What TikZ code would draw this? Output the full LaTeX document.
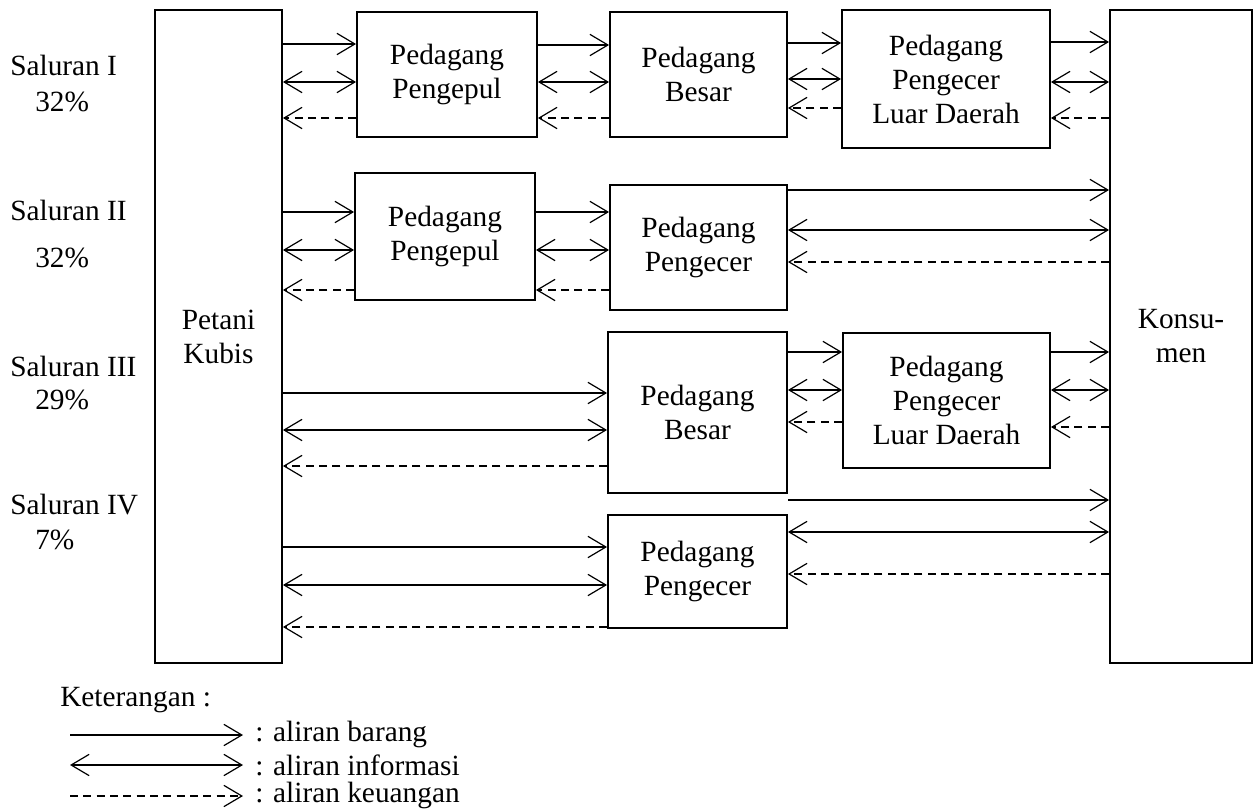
\documentclass[tikz,border=0pt]{standalone}
\usepackage{fontspec}
\setmainfont{Liberation Serif}
\usetikzlibrary{arrows.meta}
\begin{document}
\begin{tikzpicture}[x=0.75pt,y=-0.75pt,
  box/.style={draw,line width=1.4pt,inner sep=0pt,align=center,font=\fontsize{22}{25.5}\selectfont},
  lbl/.style={anchor=west,inner sep=0pt,font=\fontsize{22}{25.5}\selectfont},
  barang/.style={line width=0.9pt,-{Straight Barb[length=13.5pt,width=16pt]}},
  info/.style={line width=0.9pt,{Straight Barb[length=13.5pt,width=16pt]}-{Straight Barb[length=13.5pt,width=16pt]}},
  uang/.style={line width=0.9pt,dash pattern=on 6pt off 4pt,-{Straight Barb[length=13.5pt,width=16pt]}}
]
\useasboundingbox (0,0) rectangle (1260,810);

% main boxes
\node[box,minimum width=95.25pt,minimum height=489.75pt] (P) at (218.5,336.5) {Petani\\Kubis};
\node[box,minimum width=106.5pt,minimum height=489.75pt] (K) at (1181,336.5) {Konsu-\\men};

% row 1
\node[box,minimum width=135pt,minimum height=93.75pt] (A1) at (447,74.5) {Pedagang\\Pengepul};
\node[box,minimum width=132.75pt,minimum height=93.75pt] (B1) at (698.5,74.5) {Pedagang\\Besar};
\node[box,minimum width=156pt,minimum height=103.5pt] (C1) at (946,79) {Pedagang\\Pengecer\\Luar Daerah};
% row 2
\node[box,minimum width=135pt,minimum height=95.25pt] (A2) at (445,236.5) {Pedagang\\Pengepul};
\node[box,minimum width=132.75pt,minimum height=93.75pt] (B2) at (698.5,247.5) {Pedagang\\Pengecer};
% row 3
\node[box,minimum width=134.25pt,minimum height=120.75pt] (B3) at (697.5,412.5) {Pedagang\\Besar};
\node[box,minimum width=155.25pt,minimum height=101.25pt] (C3) at (946.5,400.5) {Pedagang\\Pengecer\\Luar Daerah};
% row 4
\node[box,minimum width=134.25pt,minimum height=84.75pt] (B4) at (697.5,571.5) {Pedagang\\Pengecer};

% left labels
\node[lbl] (s1) at (10,65) {Saluran I};
\node[lbl] (p1) at (35,102) {32\%};
\node[lbl] (s2) at (10,210) {Saluran II};
\node[lbl] (p2) at (35,258) {32\%};
\node[lbl] (s3) at (10,366) {Saluran III};
\node[lbl] (p3) at (35,400) {29\%};
\node[lbl] (s4) at (10,505) {Saluran IV};
\node[lbl] (p4) at (35,540) {7\%};

\newcommand{\flowset}[5]{%
  \draw[barang] (#1.east |- 0,#3) -- (#2.west |- 0,#3);
  \draw[info] (#1.east |- 0,#4) -- (#2.west |- 0,#4);
  \draw[uang] (#2.west |- 0,#5) -- (#1.east |- 0,#5);
}

% row 1 flows
\flowset{P}{A1}{44}{82}{118}
\flowset{A1}{B1}{45}{82}{118}
\flowset{B1}{C1}{43}{79}{108}
\flowset{C1}{K}{42}{82}{118}
% row 2 flows
\flowset{P}{A2}{212}{250}{290}
\flowset{A2}{B2}{212}{250}{290}
\flowset{B2}{K}{190}{230}{262}
% row 3 flows
\flowset{P}{B3}{393}{430}{466}
\flowset{B3}{C3}{352}{390}{422}
\flowset{C3}{K}{352}{390}{427}
% row 4 flows
\draw[barang] (B3.east |- 0,500) -- (K.west |- 0,500);
\draw[info] (B4.east |- 0,532) -- (K.west |- 0,532);
\draw[uang] (K.west |- 0,574) -- (B4.east |- 0,574);
\flowset{P}{B4}{547}{585}{627}

% legend
\node[lbl] (ket) at (60,700) {Keterangan :};
\node[lbl] (t1) at (255,734) {: aliran barang};
\node[lbl] (t2) at (255,765) {: aliran informasi};
\node[lbl] (t3) at (255,795) {: aliran keuangan};
\coordinate (l1a) at (70,735);
\coordinate (l1b) at (243,735);
\coordinate (l2a) at (70,765);
\coordinate (l2b) at (243,765);
\coordinate (l3a) at (70,796);
\coordinate (l3b) at (243,796);
\draw[barang] (l1a) -- (l1b);
\draw[info] (l2a) -- (l2b);
\draw[uang] (l3a) -- (l3b);
\end{tikzpicture}
\end{document}
